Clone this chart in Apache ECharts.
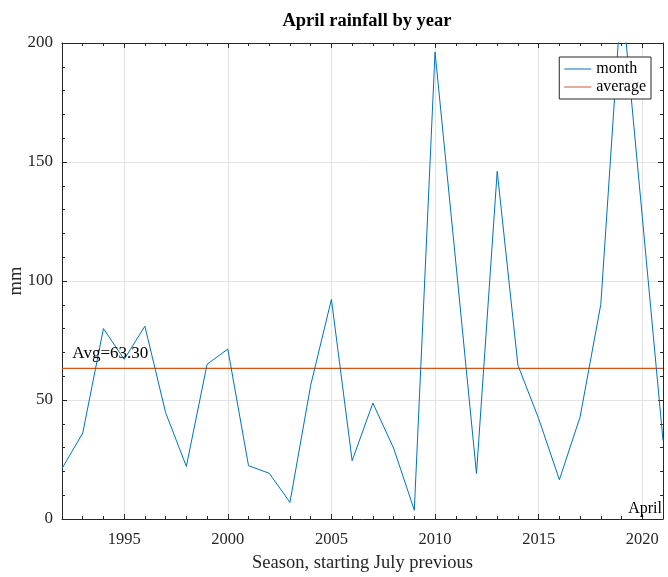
<!DOCTYPE html>
<html>
<head>
<meta charset="utf-8">
<script src="https://cdn.jsdelivr.net/npm/echarts@6/dist/echarts.min.js"></script>
<style>
html,body{margin:0;padding:0;background:#fff;}
#chart{width:668px;height:577px;}
</style>
</head>
<body>
<div id="chart"></div>
<script>
// ---- data ----
const years = [1992,1993,1994,1995,1996,1997,1998,1999,2000,2001,2002,2003,2004,2005,2006,2007,2008,2009,2010,2011,2012,2013,2014,2015,2016,2017,2018,2019,2020,2021];
const monthRain = [21.2,36.1,80.0,67.1,81.0,44.7,22.1,65.0,71.4,22.4,19.2,7.0,56.2,92.3,24.5,48.7,29.8,3.7,196.2,108.0,19.1,146.1,64.6,42.2,16.5,42.9,90.2,221.0,127.0,33.0];
const avgValue = 63.30;
const seriesNames = ['month', 'average'];
const titleText = 'April rainfall by year';
const xName = 'Season, starting July previous';
const yName = 'mm';
const monthLabel = 'April';

const FONT = '"Liberation Serif", "Times New Roman", serif';
const AXC = '#262626';

const monthData = years.map((y, i) => [y, monthRain[i]]);
const avgData = [[years[0], avgValue], [years[years.length - 1], avgValue]];

const chart = echarts.init(document.getElementById('chart'));
const baseX = {
  type: 'value', min: years[0], max: years[years.length - 1], splitNumber: 6,
  axisLine: {show: true, onZero: false, lineStyle: {color: AXC, width: 1}},
  axisTick: {show: true, inside: true, length: 5, lineStyle: {color: AXC}},
  minorTick: {show: true, splitNumber: 5, length: 3, lineStyle: {color: AXC}},
};
const baseY = {
  type: 'value', min: 0, max: 200, interval: 50,
  axisLine: {show: true, lineStyle: {color: AXC, width: 1}},
  axisTick: {show: true, inside: true, length: 5, lineStyle: {color: AXC}},
  minorTick: {show: true, splitNumber: 5, length: 3, lineStyle: {color: AXC}},
};
chart.setOption({
  animation: false,
  backgroundColor: '#fff',
  title: {
    text: titleText, left: 362, top: 7, textAlign: 'center',
    textStyle: {fontFamily: FONT, fontWeight: 'bold', fontSize: 18.5, color: '#000'}
  },
  grid: {left: 62, right: 5, top: 43, bottom: 58, containLabel: false, outerBoundsMode: 'none'},
  legend: {
    data: seriesNames, orient: 'vertical', right: 17, top: 57,
    padding: [3, 5, 3, 5], itemGap: 0, itemWidth: 27, itemHeight: 1, icon: 'rect',
    borderColor: AXC, borderWidth: 1, backgroundColor: '#fff', borderRadius: 0,
    textStyle: {fontFamily: FONT, fontSize: 16, color: '#000', lineHeight: 18}
  },
  xAxis: [
    Object.assign({}, baseX, {
      position: 'bottom',
      name: xName, nameLocation: 'middle', nameGap: 35, nameMoveOverlap: false,
      nameTextStyle: {fontFamily: FONT, fontSize: 18.5, color: AXC},
      axisLabel: {fontFamily: FONT, fontSize: 16.5, color: AXC, margin: 12, showMinLabel: false, showMaxLabel: false,
                  formatter: v => String(v)},
      splitLine: {show: true, lineStyle: {color: '#e3e3e3', width: 1}}
    }),
    Object.assign({}, baseX, {
      position: 'top', axisLabel: {show: false}, splitLine: {show: false}
    })
  ],
  yAxis: [
    Object.assign({}, baseY, {
      position: 'left',
      name: yName, nameLocation: 'middle', nameGap: 36, nameRotate: 90, nameMoveOverlap: false,
      nameTextStyle: {fontFamily: FONT, fontSize: 18.5, color: AXC},
      axisLabel: {fontFamily: FONT, fontSize: 17, color: AXC, margin: 9},
      splitLine: {show: true, lineStyle: {color: '#e3e3e3', width: 1}}
    }),
    Object.assign({}, baseY, {
      position: 'right', axisLabel: {show: false}, splitLine: {show: false}
    })
  ],
  series: [
    {
      name: seriesNames[0], type: 'line', data: monthData, symbol: 'none',
      lineStyle: {color: '#0072BD', width: 1}, itemStyle: {color: '#0072BD'},
      clip: true, z: 3
    },
    {
      name: seriesNames[1], type: 'line', data: avgData, symbol: 'none',
      lineStyle: {color: '#D95319', width: 1.2}, itemStyle: {color: '#D95319'},
      z: 2,
      markPoint: {
        symbol: 'circle', symbolSize: 0, silent: true,
        data: [
          {coord: [years[0] + 0.5, avgValue],
           label: {show: true, formatter: 'Avg=' + avgValue.toFixed(2), position: [0, -15], align: 'left', verticalAlign: 'middle',
                   fontFamily: FONT, fontSize: 17, color: '#000'}},
          {coord: [years[years.length - 1], 0],
           label: {show: true, formatter: monthLabel, position: [-1, -10], align: 'right', verticalAlign: 'middle',
                   fontFamily: FONT, fontSize: 16, color: '#000'}}
        ]
      }
    }
  ]
});
</script>
</body>
</html>
